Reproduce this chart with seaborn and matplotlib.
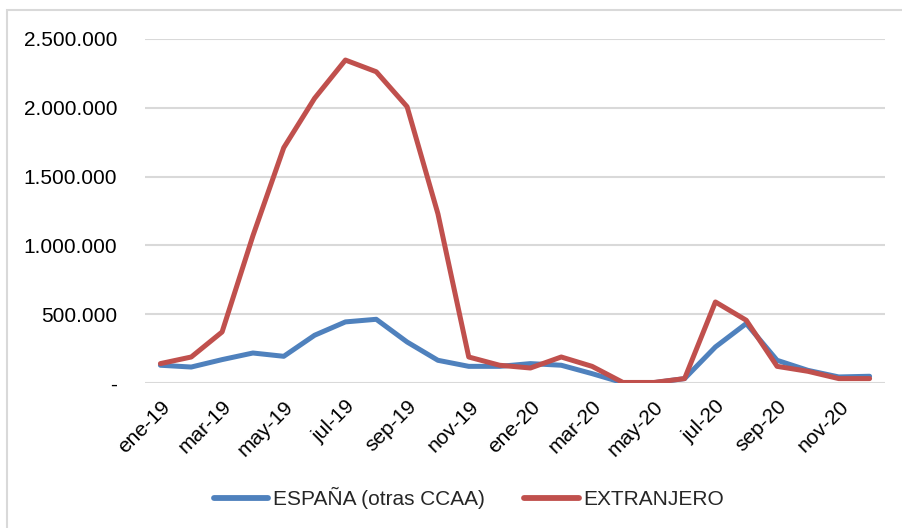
import numpy as np
import pandas as pd
import matplotlib
matplotlib.use("Agg")
import matplotlib.pyplot as plt
import matplotlib.ticker as mticker
import matplotlib.patches as patches
import seaborn as sns

# Datos
meses = ['ene-19', 'feb-19', 'mar-19', 'abr-19', 'may-19', 'jun-19', 'jul-19', 'ago-19',
         'sep-19', 'oct-19', 'nov-19', 'dic-19', 'ene-20', 'feb-20', 'mar-20', 'abr-20',
         'may-20', 'jun-20', 'jul-20', 'ago-20', 'sep-20', 'oct-20', 'nov-20', 'dic-20']
espana = [129000, 116000, 170000, 218000, 194000, 347000, 444000, 463000,
          298000, 165000, 121000, 121000, 141000, 129000, 68000, 2000,
          2000, 32000, 262000, 432000, 165000, 92000, 44000, 49000]
extranjero = [141000, 189000, 371000, 1070000, 1710000, 2069000, 2347000, 2262000,
              2008000, 1230000, 189000, 129000, 109000, 189000, 121000, 4000,
              4000, 32000, 589000, 456000, 121000, 85000, 32000, 32000]
series = ['ESPAÑA (otras CCAA)', 'EXTRANJERO']
colores = ['#4F81BD', '#C0504D']

df = pd.DataFrame({
    'idx': list(range(len(meses))) * 2,
    'valor': espana + extranjero,
    'serie': [series[0]] * len(meses) + [series[1]] * len(meses),
})

sns.set_style('white')
plt.rcParams['font.family'] = ['Liberation Sans', 'DejaVu Sans']

fig = plt.figure(figsize=(9.02, 5.28), dpi=100)
ax = fig.add_axes([145 / 902, 1 - 383 / 528, 740 / 902, 344 / 528])

sns.lineplot(data=df, x='idx', y='valor', hue='serie', palette=colores,
             linewidth=3.6, ax=ax, legend=True, sort=False)

ax.set_xlim(-0.5, len(meses) - 0.5)
ax.set_ylim(0, 2500000)
ax.set_yticks(np.arange(0, 2500001, 500000))


def fmt_miles(v, pos):
    if v == 0:
        return '-'
    return f'{int(v):,}'.replace(',', '.')


ax.yaxis.set_major_formatter(mticker.FuncFormatter(fmt_miles))
ax.grid(axis='y', color='#D9D9D9', linewidth=1.5)
ax.set_axisbelow(True)
for s in ax.spines.values():
    s.set_visible(False)

ticks = list(range(0, len(meses), 2))
ax.set_xticks(ticks)
ax.set_xticklabels([meses[i] for i in ticks], rotation=45, ha='right',
                   rotation_mode='anchor')
ax.tick_params(axis='x', length=0, labelsize=15, pad=10, colors='black')
ax.tick_params(axis='y', length=0, labelsize=15, pad=20, colors='black')
ax.set_xlabel('')
ax.set_ylabel('')

leg = ax.legend(loc='center', bbox_to_anchor=(469 / 902, 30 / 528), bbox_transform=fig.transFigure,
                ncol=2, frameon=False, fontsize=15, handlelength=2.6,
                handletextpad=0.25, columnspacing=1.9)
for ln in leg.get_lines():
    ln.set_linewidth(4.2)

# borde del área del gráfico
fig.patches.append(patches.Rectangle((7 / 902, -0.05), 1.0, 1 - 10 / 528 + 0.05,
                                     transform=fig.transFigure, fill=False,
                                     edgecolor='#D9D9D9', linewidth=1.5))

fig.savefig('out.png', dpi=100, facecolor='white')
